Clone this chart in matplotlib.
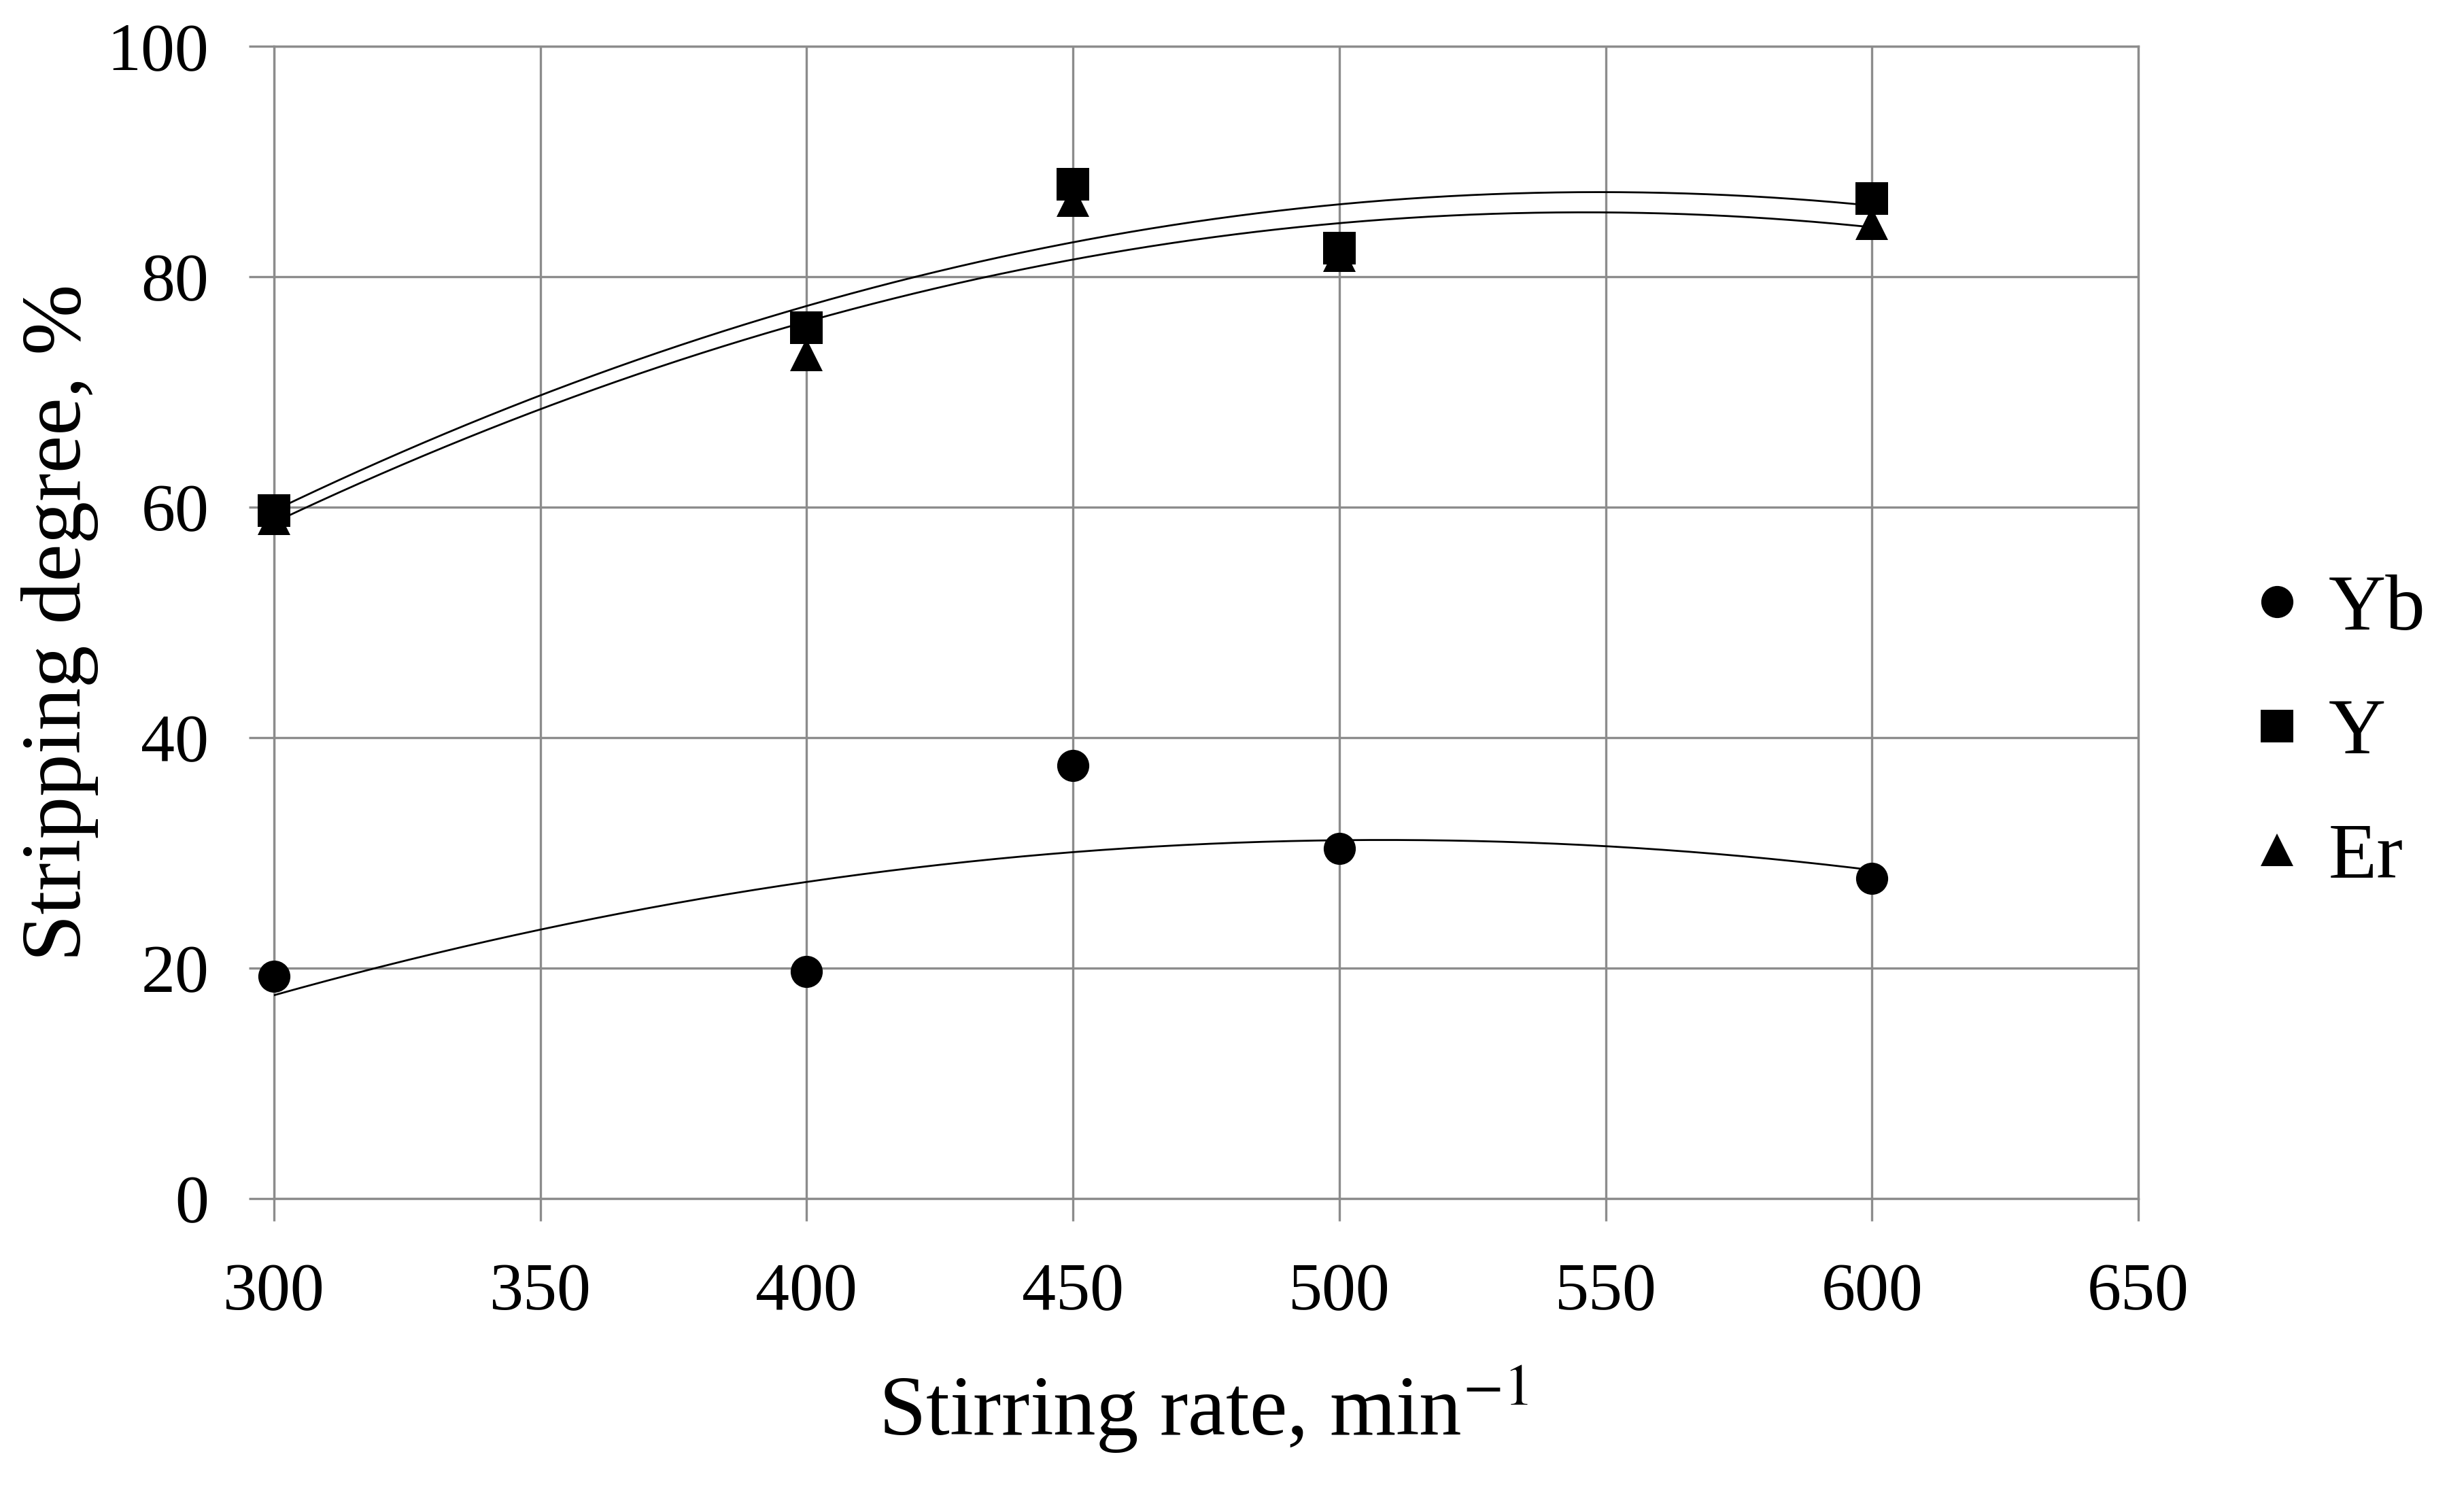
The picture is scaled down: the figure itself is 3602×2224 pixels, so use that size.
import numpy as np
import matplotlib
matplotlib.use("Agg")
import matplotlib.pyplot as plt

# ---- data ----
stirring_rate = [300, 400, 450, 500, 600]
yb_values = [19.3, 19.7, 37.6, 30.4, 27.8]
y_values = [59.7, 75.6, 88.0, 82.5, 86.8]
er_values = [59.0, 73.2, 86.6, 81.8, 84.6]
series_names = ["Yb", "Y", "Er"]
x_ticks = [300, 350, 400, 450, 500, 550, 600, 650]
y_ticks = [0, 20, 40, 60, 80, 100]

plt.rcParams['font.family'] = ['Liberation Serif', 'DejaVu Serif']
plt.rcParams['mathtext.fontset'] = 'stix'

W, H = 3602, 2224
fig = plt.figure(figsize=(W / 200, H / 200), dpi=200)
left, right, top, bottom = 403 / W, 3145 / W, 1 - 68 / H, 1 - 1763 / H
ax = fig.add_axes([left, bottom, right - left, top - bottom])

grid_col = '#8c8c8c'
ax.set_xlim(300, 650)
ax.set_ylim(0, 100)
ax.set_xticks(x_ticks)
ax.set_yticks(y_ticks)
ax.grid(True, color=grid_col, linewidth=1.2)
ax.set_axisbelow(True)
for s in ax.spines.values():
    s.set_color(grid_col)
    s.set_linewidth(1.2)
ax.tick_params(axis='both', colors=grid_col, width=1.2,
               labelcolor='black', labelsize=36)
ax.tick_params(axis='x', length=12, pad=22)
ax.tick_params(axis='y', length=13.5, pad=21)

xs = np.array(stirring_rate, dtype=float)
xfit = np.linspace(300, 600, 300)
markers = ['o', 's', '^']
zorders = [5, 6, 5]
for vals, name, m, zo in zip([yb_values, y_values, er_values], series_names, markers, zorders):
    coef = np.polyfit(xs, np.array(vals), 2)
    ax.plot(xfit, np.polyval(coef, xfit), color='black', linewidth=1.0, zorder=3)
    ax.plot(xs, vals, linestyle='none', marker=m, markersize=17, color='black',
            markeredgewidth=0, label=name, zorder=zo, clip_on=False)

ax.set_xlabel(r'Stirring rate, min$^{-1}$', fontsize=45)
ax.xaxis.set_label_coords(0.4985, -0.1428)
ax.set_ylabel('Stripping degree, %', fontsize=45)
ax.yaxis.set_label_coords(-0.094, 0.5)

leg = ax.legend(loc='center left', bbox_to_anchor=(3320 / W, 1 - 1080 / H),
                bbox_transform=fig.transFigure, frameon=False, fontsize=42,
                handlelength=0.5, handletextpad=0.4, labelspacing=0.65,
                borderpad=0, borderaxespad=0, numpoints=1)

fig.savefig('out.png', dpi=200)
